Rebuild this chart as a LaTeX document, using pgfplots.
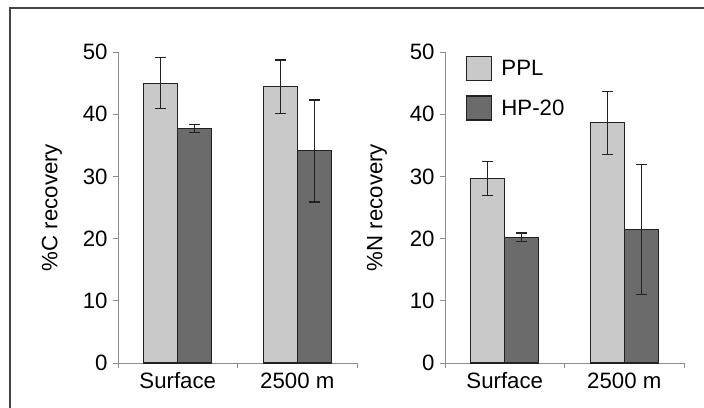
\documentclass[border=0pt]{standalone}
\usepackage{pgfplots}
\pgfplotsset{compat=1.18}
\usepackage{fontspec}
\setmainfont{Liberation Sans}
\definecolor{lightbar}{HTML}{C9C9C9}
\definecolor{darkbar}{HTML}{6B6B6B}
\definecolor{edge}{HTML}{222222}
\definecolor{axgray}{HTML}{8C8C8C}
\definecolor{frame}{HTML}{444444}
\pgfplotsset{
  recov/.style={
    scale only axis,
    width=239bp, height=311bp,
    ybar=0pt, bar width=34bp,
    xmin=-0.5, xmax=1.5, ymin=0, ymax=50,
    axis x line=bottom, axis y line=left,
    axis line style={axgray, line width=0.9bp, -},
    tick style={axgray, line width=0.9bp},
    tick align=outside, major tick length=5bp,
    xtick={-0.5,0.5,1.5}, xticklabels={},
    extra x ticks={0,1}, extra x tick labels={Surface,2500 m},
    extra x tick style={major tick length=0pt, xticklabel style={yshift=-6bp}},
    ytick={0,10,20,30,40,50},
    font=\fontsize{22.3}{26}\selectfont,
    /pgf/number format/assume math mode=true,
    ticklabel style={font=\fontsize{22.3}{26}\selectfont},
    yticklabel style={xshift=-2bp},
    every axis plot/.append style={draw=edge, line width=1.1bp},
    error bars/error bar style={edge, line width=1.3bp},
    error bars/error mark options={rotate=90, mark size=5.5bp, line width=1.3bp},
    clip=false,
  }
}
\begin{document}
\begin{tikzpicture}
\useasboundingbox (0bp,0bp) rectangle (704bp,408bp);
\draw[frame, line width=1.6bp] (10bp,-5bp) -- (10bp,400bp) -- (710bp,400bp);
\begin{axis}[recov, at={(118bp,45bp)}, anchor=south west,
  ylabel={\%C recovery},
  ylabel style={at={(axis description cs:-0.276,0.5)}, anchor=center, rotate=0}]
\addplot[fill=lightbar, error bars/.cd, y dir=both, y explicit]
  coordinates {(0,45.0) +- (0,4.1) (1,44.4) +- (0,4.3)};
\addplot[fill=darkbar, error bars/.cd, y dir=both, y explicit]
  coordinates {(0,37.7) +- (0,0.65) (1,34.1) +- (0,8.2)};
\end{axis}
\begin{axis}[recov, at={(445bp,45bp)}, anchor=south west,
  ylabel={\%N recovery},
  ylabel style={at={(axis description cs:-0.285,0.5)}, anchor=center, rotate=0},
  legend style={at={(0.088,0.987)}, anchor=north west, draw=none, fill=none,
    inner sep=0pt, outer sep=0pt, row sep=14bp,
    font=\fontsize{22.3}{26}\selectfont,
    nodes={inner sep=0pt, outer sep=0pt}},
  legend cell align=left,
  legend image code/.code={\draw[#1, line width=1.4bp] (0bp,-12bp) rectangle (25bp,12bp);},
  legend columns=1]
\addplot[fill=lightbar, error bars/.cd, y dir=both, y explicit]
  coordinates {(0,29.7) +- (0,2.75) (1,38.6) +- (0,5.05)};
\addlegendentry{\hspace{9bp}PPL}
\addplot[fill=darkbar, error bars/.cd, y dir=both, y explicit]
  coordinates {(0,20.2) +- (0,0.7) (1,21.5) +- (0,10.45)};
\addlegendentry{\hspace{9bp}HP-20}
\end{axis}
\end{tikzpicture}
\end{document}
